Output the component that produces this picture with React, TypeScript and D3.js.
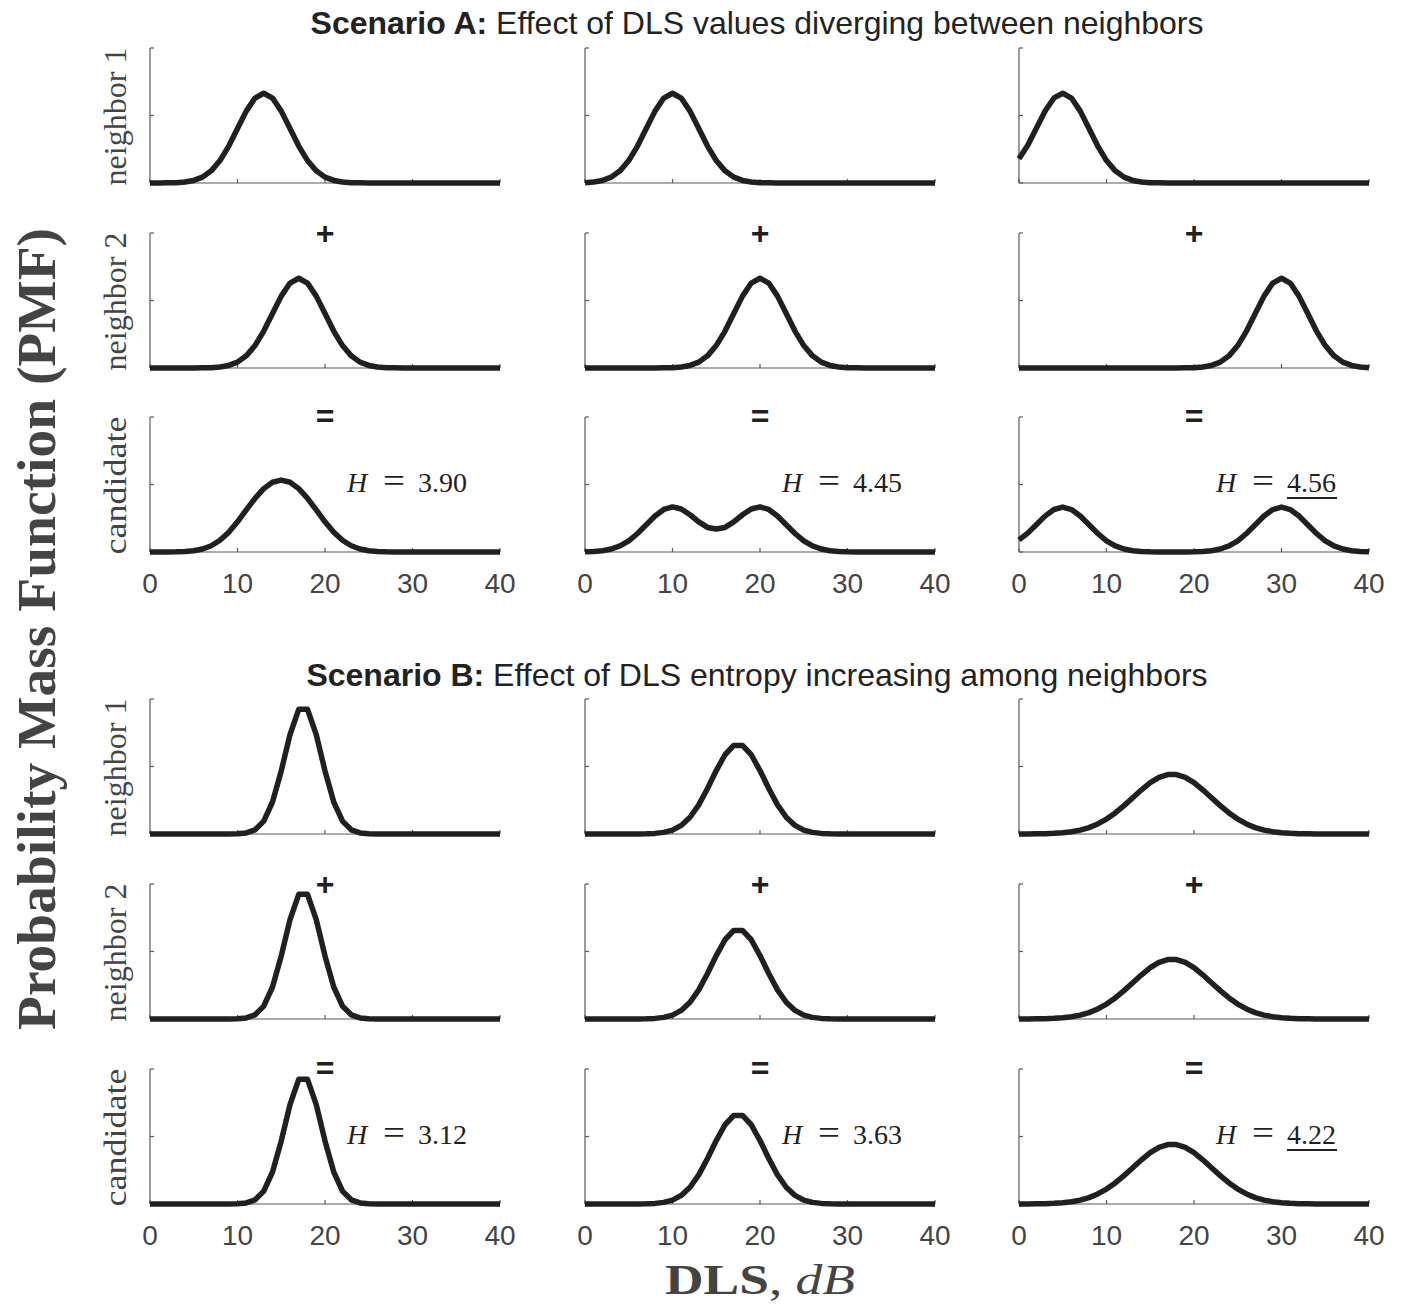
import React from "react";
import * as d3 from "d3";

// ---------- data ----------
const DLS_DB = [0,1,2,3,4,5,6,7,8,9,10,11,12,13,14,15,16,17,18,19,20,21,22,23,24,25,26,27,28,29,30,31,32,33,34,35,36,37,38,39,40];
const X_TICKS = [0, 10, 20, 30, 40];
const Y_TICKS = [0, 0.1, 0.2];
const Y_MAX = 0.2;
const ROW_LABELS = ["neighbor 1", "neighbor 2", "candidate"];
const OPERATORS = ["", "+", "="];
const ENTROPY_A = ["3.90", "4.45", "4.56"];
const ENTROPY_B = ["3.12", "3.63", "4.22"];
const MAX_ENTROPY_COL = 2;

// Scenario A — neighbor 1 (peaks at 13, 10, 5)
const A_N1_C1 = [0,0,0.0002,0.0005,0.0015,0.0038,0.0087,0.0180,0.0332,0.0547,0.0807,0.1065,0.1258,0.1330,0.1258,0.1065,0.0807,0.0547,0.0332,0.0180,0.0087,0.0038,0.0015,0.0005,0.0002,0,0,0,0,0,0,0,0,0,0,0,0,0,0,0,0];
const A_N1_C2 = [0.0005,0.0015,0.0038,0.0087,0.0180,0.0332,0.0547,0.0807,0.1065,0.1258,0.1330,0.1258,0.1065,0.0807,0.0547,0.0332,0.0180,0.0087,0.0038,0.0015,0.0005,0.0002,0,0,0,0,0,0,0,0,0,0,0,0,0,0,0,0,0,0,0];
const A_N1_C3 = [0.0360,0.0560,0.0815,0.1070,0.1260,0.1330,0.1258,0.1065,0.0807,0.0547,0.0332,0.0180,0.0087,0.0038,0.0015,0.0005,0.0002,0,0,0,0,0,0,0,0,0,0,0,0,0,0,0,0,0,0,0,0,0,0,0,0];
// Scenario A — neighbor 2 (peaks at 17, 20, 30)
const A_N2_C1 = [0,0,0,0,0,0,0.0002,0.0005,0.0015,0.0038,0.0087,0.0180,0.0332,0.0547,0.0807,0.1065,0.1258,0.1330,0.1258,0.1065,0.0807,0.0547,0.0332,0.0180,0.0087,0.0038,0.0015,0.0005,0.0002,0,0,0,0,0,0,0,0,0,0,0,0];
const A_N2_C2 = [0,0,0,0,0,0,0,0,0,0.0002,0.0005,0.0015,0.0038,0.0087,0.0180,0.0332,0.0547,0.0807,0.1065,0.1258,0.1330,0.1258,0.1065,0.0807,0.0547,0.0332,0.0180,0.0087,0.0038,0.0015,0.0005,0.0002,0,0,0,0,0,0,0,0,0];
const A_N2_C3 = [0,0,0,0,0,0,0,0,0,0,0,0,0,0,0,0,0,0,0,0.0002,0.0005,0.0015,0.0038,0.0087,0.0180,0.0332,0.0547,0.0807,0.1065,0.1258,0.1330,0.1258,0.1065,0.0807,0.0547,0.0332,0.0180,0.0087,0.0038,0.0015,0.0005];
// Scenario A — candidate
const A_CAND_C1 = [0,0,0.0001,0.0003,0.0008,0.0019,0.0045,0.0093,0.0174,0.0293,0.0447,0.0623,0.0795,0.0939,0.1033,0.1065,0.1033,0.0939,0.0795,0.0623,0.0447,0.0293,0.0174,0.0093,0.0045,0.0019,0.0008,0.0003,0.0001,0,0,0,0,0,0,0,0,0,0,0,0];
const A_CAND_C2 = [0.0003,0.0008,0.0019,0.0044,0.0090,0.0166,0.0274,0.0404,0.0533,0.0630,0.0668,0.0637,0.0552,0.0447,0.0364,0.0340,0.0364,0.0447,0.0552,0.0637,0.0668,0.0630,0.0533,0.0404,0.0274,0.0166,0.0090,0.0044,0.0019,0.0008,0.0003,0.0001,0,0,0,0,0,0,0,0,0];
const A_CAND_C3 = [0.0180,0.0280,0.0408,0.0535,0.0630,0.0665,0.0629,0.0533,0.0404,0.0274,0.0166,0.0090,0.0044,0.0019,0.0008,0.0003,0.0001,0,0,0.0001,0.0003,0.0008,0.0019,0.0044,0.0090,0.0166,0.0274,0.0404,0.0533,0.0629,0.0665,0.0629,0.0533,0.0404,0.0274,0.0166,0.0090,0.0044,0.0019,0.0008,0.0003];

// Scenario B — identical neighbors, spread increasing by column
const B_C1 = [0,0,0,0,0,0,0,0,0,0.0001,0.0003,0.0016,0.0062,0.0191,0.0474,0.0935,0.1472,0.1847,0.1847,0.1472,0.0935,0.0474,0.0191,0.0062,0.0016,0.0003,0.0001,0,0,0,0,0,0,0,0,0,0,0,0,0,0];
const B_C2 = [0,0,0,0,0,0,0.0001,0.0003,0.0009,0.0024,0.0058,0.0127,0.0248,0.0432,0.0673,0.0940,0.1174,0.1312,0.1312,0.1174,0.0940,0.0673,0.0432,0.0248,0.0127,0.0058,0.0024,0.0009,0.0003,0.0001,0,0,0,0,0,0,0,0,0,0,0];
const B_C3 = [0,0.0001,0.0002,0.0005,0.0010,0.0019,0.0034,0.0058,0.0095,0.0149,0.0221,0.0312,0.0420,0.0538,0.0655,0.0760,0.0839,0.0881,0.0881,0.0839,0.0760,0.0655,0.0538,0.0420,0.0312,0.0221,0.0149,0.0095,0.0058,0.0034,0.0019,0.0010,0.0005,0.0002,0.0001,0,0,0,0,0,0];

const SCENARIO_A_ROWS = [
  [A_N1_C1, A_N1_C2, A_N1_C3],
  [A_N2_C1, A_N2_C2, A_N2_C3],
  [A_CAND_C1, A_CAND_C2, A_CAND_C3],
];
const SCENARIO_B_ROWS = [
  [B_C1, B_C2, B_C3],
  [B_C1, B_C2, B_C3],
  [B_C1, B_C2, B_C3],
];

// ---------- layout ----------
const W = 1402;
const H = 1304;
const COL_X = [150, 585, 1019];
const PANEL_W = 350;
const PANEL_H = 135;
const SCENARIOS = [
  { bold: "Scenario A:", rest: " Effect of DLS values diverging between neighbors", titleY: 34, tops: [48, 233, 417], rows: SCENARIO_A_ROWS, entropy: ENTROPY_A },
  { bold: "Scenario B:", rest: " Effect of DLS entropy increasing among neighbors", titleY: 686, tops: [699, 884, 1069], rows: SCENARIO_B_ROWS, entropy: ENTROPY_B },
];

const SERIF = "'Liberation Serif', 'DejaVu Serif', serif";
const SANS = "'Liberation Sans', Arial, Helvetica, sans-serif";
const AXIS = "#5a5a5a";
const INK = "#231f20";
const GRAY_TEXT = "#444";

const x = d3.scaleLinear().domain([0, 40]).range([0, PANEL_W]);
const y = d3.scaleLinear().domain([0, Y_MAX]).range([PANEL_H, 0]);
const line = d3.line<number>().x((_, i) => x(DLS_DB[i])).y((d) => y(d)).curve(d3.curveLinear);

function Panel({ data, showTicks }: { data: number[]; showTicks: boolean }) {
  return (
    <g>
      <line x1={0} x2={0} y1={0} y2={PANEL_H} stroke={AXIS} strokeWidth={1.2} />
      <line x1={0} x2={PANEL_W} y1={PANEL_H} y2={PANEL_H} stroke={AXIS} strokeWidth={1.2} />
      {Y_TICKS.map((t) => (
        <line key={"y" + t} x1={0} x2={4} y1={y(t)} y2={y(t)} stroke={AXIS} strokeWidth={1.2} />
      ))}
      {X_TICKS.map((t) => (
        <line key={"x" + t} x1={x(t)} x2={x(t)} y1={PANEL_H} y2={PANEL_H - 4} stroke={AXIS} strokeWidth={1.2} />
      ))}
      <path d={line(data) || ""} fill="none" stroke={INK} strokeWidth={5.5} strokeLinejoin="round" strokeLinecap="butt" />
      {showTicks &&
        X_TICKS.map((t) => (
          <text key={"l" + t} x={x(t)} y={PANEL_H + 41} textAnchor="middle" fontFamily={SANS} fontSize={28} fill={GRAY_TEXT}>
            {t}
          </text>
        ))}
    </g>
  );
}

export default function App() {
  return (
    <svg width={W} height={H} viewBox={`0 0 ${W} ${H}`} style={{ position: "absolute", left: 0, top: 0, background: "#fff" }}>
      <rect x={0} y={0} width={W} height={H} fill="#fff" />
      {SCENARIOS.map((sc, si) => (
        <g key={si}>
          <text x={757} y={sc.titleY} textAnchor="middle" fontFamily={SANS} fontSize={32} fill="#222">
            <tspan fontWeight="bold">{sc.bold}</tspan>
            <tspan>{sc.rest}</tspan>
          </text>
          {sc.rows.map((row, ri) => (
            <g key={ri}>
              <text
                transform={`translate(${COL_X[0] - 24},${sc.tops[ri] + PANEL_H / 2 + 1}) rotate(-90)`}
                textAnchor="middle"
                fontFamily={SERIF}
                fontSize={31}
                fill={GRAY_TEXT}
                textLength={138}
                lengthAdjust="spacingAndGlyphs"
              >
                {ROW_LABELS[ri]}
              </text>
              {row.map((data, ci) => (
                <g key={ci} transform={`translate(${COL_X[ci]},${sc.tops[ri]})`}>
                  <Panel data={data} showTicks={ri === 2} />
                  {OPERATORS[ri] && (
                    <text x={x(20)} y={ri === 1 ? 11 : 10} textAnchor="middle" fontFamily={SANS} fontWeight="bold" fontSize={32} fill={INK}>
                      {OPERATORS[ri]}
                    </text>
                  )}
                  {ri === 2 && (
                    <g fontFamily={SERIF} fontSize={28} fill={INK}>
                      <text x={197} y={75} fontStyle="italic">H</text>
                      <text x={233} y={75} fontSize={34} textLength={22} lengthAdjust="spacingAndGlyphs">=</text>
                      <text x={268} y={75}>{sc.entropy[ci]}</text>
                      {ci === MAX_ENTROPY_COL && <line x1={268} x2={318} y1={81} y2={81} stroke={INK} strokeWidth={2} />}
                    </g>
                  )}
                </g>
              ))}
            </g>
          ))}
        </g>
      ))}
      <text
        transform="translate(55,629) rotate(-90)"
        textAnchor="middle"
        fontFamily={SERIF}
        fontWeight="bold"
        fontSize={54}
        fill={GRAY_TEXT}
        textLength={802}
        lengthAdjust="spacingAndGlyphs"
      >
        Probability Mass Function (PMF)
      </text>
      <text x={760} y={1294} textAnchor="middle" fontFamily={SERIF} fontSize={43} fill={GRAY_TEXT} textLength={190} lengthAdjust="spacingAndGlyphs">
        <tspan fontWeight="bold">DLS</tspan>
        <tspan>, </tspan>
        <tspan fontStyle="italic">dB</tspan>
      </text>
    </svg>
  );
}
